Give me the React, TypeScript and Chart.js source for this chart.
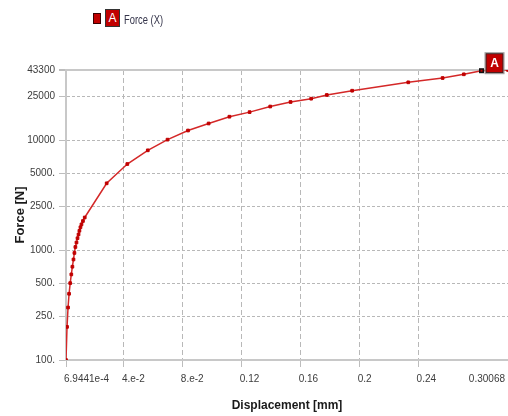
import React, { useEffect, useRef } from 'react';
import { Chart, registerables } from 'chart.js';

Chart.register(...registerables);

// Force–displacement result, probe "A"
const displacement = [
  0.000694, 0.00139, 0.00208, 0.00278, 0.00355, 0.0043, 0.00503, 0.00577, 0.0064,
  0.00706, 0.0078, 0.0085, 0.0092, 0.0098, 0.0105, 0.0112, 0.0122, 0.0134,
  0.0283, 0.0423, 0.0562, 0.0696, 0.0835, 0.0975, 0.1116, 0.1253, 0.1393,
  0.1531, 0.1671, 0.1777, 0.1949, 0.233, 0.2563, 0.2707, 0.2827, 0.30068,
];
const force = [
  100, 200, 300, 400, 500, 600, 705, 820, 940,
  1065, 1170, 1280, 1385, 1495, 1610, 1710, 1835, 1975,
  4040, 6050, 8060, 10080, 12200, 14130, 16290, 17930, 20160,
  22160, 23750, 25660, 28070, 33460, 36610, 39570, 42660, 43300,
];
const probeIndex = 34;

const forceTicks = [100, 250, 500, 1000, 2500, 5000, 10000, 25000, 43300];
const forceTickLabels = ['100.', '250.', '500.', '1000.', '2500.', '5000.', '10000', '25000', '43300'];
const dispTicks = [6.9441e-4, 0.04, 0.08, 0.12, 0.16, 0.2, 0.24, 0.30068];
const dispTickLabels = ['6.9441e-4', '4.e-2', '8.e-2', '0.12', '0.16', '0.2', '0.24', '0.30068'];

const RED = '#c00000';
const TICK_FONT = 'Liberation Sans, Arial, sans-serif';

const probePlugin = {
  id: 'probeMarker',
  afterDraw(chart: any) {
    const { ctx, scales } = chart;
    const xs = scales.x;
    const ys = scales.y;
    ctx.save();
    // last x tick label, kept inside the right edge
    const lastIdx = dispTicks.length - 1;
    ctx.font = `10px ${TICK_FONT}`;
    ctx.fillStyle = '#3c3c3c';
    ctx.textAlign = 'right';
    ctx.textBaseline = 'middle';
    ctx.fillText(dispTickLabels[lastIdx], xs.getPixelForValue(dispTicks[lastIdx]) - 3, xs.top + 19);

    // probe marker and its tag
    const px = xs.getPixelForValue(displacement[probeIndex]);
    const py = ys.getPixelForValue(force[probeIndex]);
    ctx.fillStyle = '#111';
    ctx.fillRect(px - 2.5, py - 2.5, 5, 5);
    ctx.fillStyle = RED;
    ctx.fillRect(px - 1, py - 1, 2, 2);

    const bx = px + 4;
    const by = py - 17.5;
    const bw = 18;
    const bh = 20;
    ctx.fillStyle = RED;
    ctx.fillRect(bx, by, bw, bh);
    ctx.lineWidth = 1;
    ctx.strokeStyle = '#2a2a2a';
    ctx.strokeRect(bx + 0.5, by + 0.5, bw - 1, bh - 1);
    ctx.strokeStyle = '#9a9a9a';
    ctx.strokeRect(bx - 0.5, by - 0.5, bw + 1, bh + 1);
    ctx.fillStyle = '#ffffff';
    ctx.font = `bold 12px ${TICK_FONT}`;
    ctx.textAlign = 'center';
    ctx.textBaseline = 'middle';
    ctx.fillText('A', bx + bw / 2, by + bh / 2 + 0.5);
    ctx.restore();
  },
};

export default function App() {
  const canvasRef = useRef<HTMLCanvasElement | null>(null);

  useEffect(() => {
    if (!canvasRef.current) return;
    const chart = new Chart(canvasRef.current, {
      type: 'line',
      data: {
        datasets: [
          {
            label: 'Force (X)',
            data: displacement.map((d, i) => ({ x: d, y: force[i] })),
            borderColor: 'rgb(212,40,40)',
            borderWidth: 1.5,
            pointStyle: 'rect',
            pointRadius: 1.9,
            pointBorderWidth: 1,
            pointBackgroundColor: RED,
            pointBorderColor: RED,
            tension: 0,
          },
        ],
      },
      options: {
        animation: false,
        responsive: false,
        layout: { autoPadding: false, padding: { top: 70, left: 0, right: 0, bottom: 0 } },
        plugins: { legend: { display: false }, tooltip: { enabled: false } },
        scales: {
          x: {
            type: 'linear',
            min: dispTicks[0],
            max: dispTicks[dispTicks.length - 1],
            afterBuildTicks: (scale: any) => {
              scale.ticks = dispTicks.map((value) => ({ value }));
            },
            afterFit: (scale: any) => {
              scale.height = 56;
              scale.paddingLeft = 0;
              scale.paddingRight = 0;
            },
            ticks: {
              autoSkip: false,
              maxRotation: 0,
              align: 'start',
              labelOffset: -2,
              padding: 6,
              color: '#3c3c3c',
              font: { family: TICK_FONT, size: 10 },
              callback: (_v: any, i: number) => (i === dispTicks.length - 1 ? '' : dispTickLabels[i]),
            },
            grid: {
              color: '#b8b8b8',
              lineWidth: 1,
              tickLength: 7,
              tickColor: '#bdbdbd',
            },
            border: { color: '#c8c8c8', width: 2, dash: [5, 3] },
            title: {
              display: true,
              text: 'Displacement [mm]',
              color: '#1a1a1a',
              font: { family: TICK_FONT, size: 12, weight: 'bold' },
              padding: { top: 0, bottom: 3 },
            },
          },
          y: {
            type: 'logarithmic',
            min: 100,
            max: 43300,
            afterBuildTicks: (scale: any) => {
              scale.ticks = forceTicks.map((value) => ({ value }));
            },
            afterFit: (scale: any) => {
              scale.width = 66;
            },
            ticks: {
              autoSkip: false,
              padding: 4,
              color: '#3c3c3c',
              font: { family: TICK_FONT, size: 10 },
              callback: (_v: any, i: number) => forceTickLabels[i],
            },
            grid: {
              color: (c: any) => (c.tick && c.tick.value === 43300 ? '#c8c8c8' : '#b8b8b8'),
              lineWidth: (c: any) => (c.tick && c.tick.value === 43300 ? 2 : 1),
              tickLength: 7,
              tickColor: '#bdbdbd',
            },
            border: {
              color: '#c8c8c8',
              width: 2,
              dash: (c: any) => (c.tick && c.tick.value === 43300 ? [] : [3, 2]),
            },
            title: {
              display: true,
              text: 'Force [N]',
              color: '#1a1a1a',
              font: { family: TICK_FONT, size: 13, weight: 'bold' },
              padding: { top: 13, bottom: 0 },
            },
          },
        },
      } as any,
      plugins: [probePlugin],
    });
    return () => chart.destroy();
  }, []);

  return (
    <div style={{ position: 'fixed', left: 0, top: 0, width: 508, height: 416, background: '#fff', overflow: 'hidden' }}>
      <canvas ref={canvasRef} width={508} height={416} style={{ display: 'block' }} />
      <div
        style={{
          position: 'absolute', left: 93, top: 13, width: 6, height: 9,
          background: RED, border: '1px solid #3a0000',
        }}
      />
      <div
        style={{
          position: 'absolute', left: 105, top: 9, width: 13, height: 16,
          background: RED, border: '1px solid #333', color: '#fff',
          font: `12px ${TICK_FONT}`, lineHeight: '16px', textAlign: 'center',
        }}
      >
        A
      </div>
      <div
        style={{
          position: 'absolute', left: 124, top: 13, color: '#34344a',
          font: `12px ${TICK_FONT}`, lineHeight: '14px', whiteSpace: 'nowrap',
          transform: 'scaleX(0.78)', transformOrigin: 'left center',
        }}
      >
        Force (X)
      </div>
    </div>
  );
}
